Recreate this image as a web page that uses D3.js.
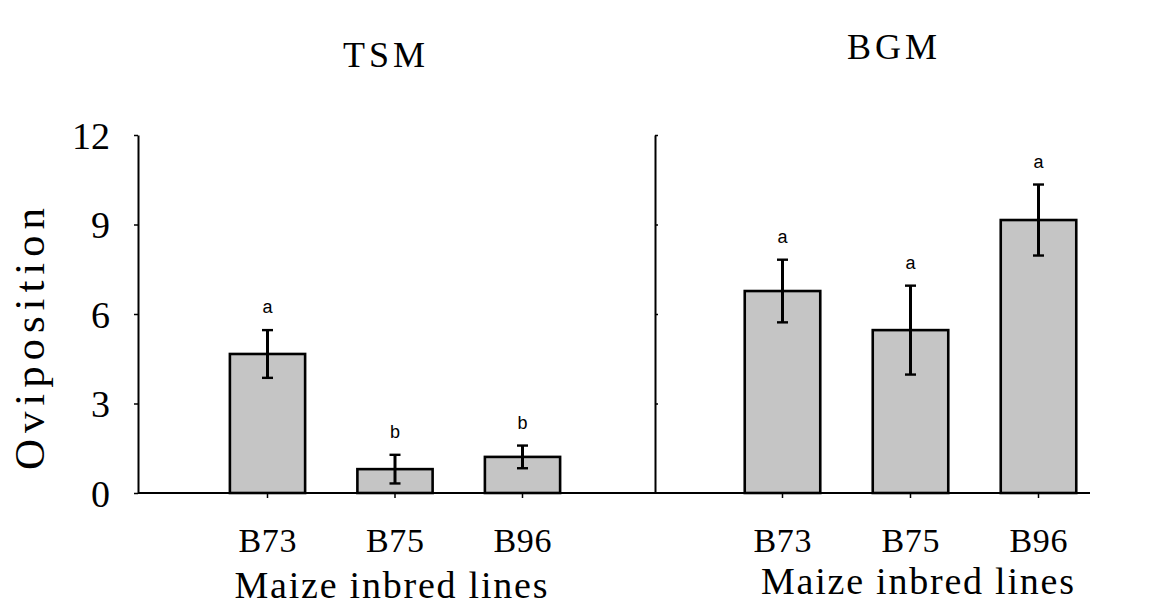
<!DOCTYPE html>
<html>
<head>
<meta charset="utf-8">
<script src="https://cdn.jsdelivr.net/npm/d3@7"></script>
<style>
  html, body { margin: 0; padding: 0; background: #fff; }
  svg { display: block; }
</style>
</head>
<body>
<svg id="chart" width="1160" height="605"></svg>
<script>
// Oviposition on three maize inbred lines, two mite species
const lines = ["B73", "B75", "B96"];
const panels = ["TSM", "BGM"];
const tsmMean = [4.66, 0.80, 1.21];
const tsmErr = [0.80, 0.48, 0.38];
const tsmLetters = ["a", "b", "b"];
const bgmMean = [6.77, 5.46, 9.15];
const bgmErr = [1.05, 1.49, 1.19];
const bgmLetters = ["a", "a", "a"];
const yTicks = [0, 3, 6, 9, 12];
const yLabel = "Oviposition";
const xLabel = "Maize inbred lines";

const serif = "'Liberation Serif', 'Times New Roman', serif";
const sans = "'Liberation Sans', Arial, sans-serif";
const svg = d3.select("#chart");

const y = d3.scaleLinear().domain([0, 12]).range([493, 135]);

const layout = [
  { name: panels[0], mean: tsmMean, err: tsmErr, letters: tsmLetters,
    axisX: 138, axisEnd: 655, band: [203.75, 586.25], tickSide: "left",
    titleX: 384, titleY: 67, titleW: 82, labelX: 391, labelY: 598 },
  { name: panels[1], mean: bgmMean, err: bgmErr, letters: bgmLetters,
    axisX: 655, axisEnd: 1090, band: [718.5, 1102.5], tickSide: "right",
    titleX: 892, titleY: 59, titleW: 90, labelX: 917.5, labelY: 594 }
];

layout.forEach(p => {
  const g = svg.append("g");
  const x = d3.scaleBand().domain(lines).range(p.band).paddingInner(0.41).paddingOuter(0.205);

  // bars
  g.selectAll("rect.bar").data(lines).join("rect")
    .attr("class", "bar")
    .attr("x", d => x(d))
    .attr("width", x.bandwidth())
    .attr("y", (d, i) => y(p.mean[i]))
    .attr("height", (d, i) => y(0) - y(p.mean[i]))
    .attr("fill", "#c5c5c5")
    .attr("stroke", "#000")
    .attr("stroke-width", 2.6);

  // error bars
  const cx = d => x(d) + x.bandwidth() / 2;
  g.selectAll("line.err").data(lines).join("line")
    .attr("x1", cx).attr("x2", cx)
    .attr("y1", (d, i) => y(p.mean[i] + p.err[i]))
    .attr("y2", (d, i) => y(p.mean[i] - p.err[i]))
    .attr("stroke", "#000").attr("stroke-width", 3);
  ["+", "-"].forEach(s => {
    g.selectAll("line.cap" + (s === "+" ? "u" : "d")).data(lines).join("line")
      .attr("x1", d => cx(d) - 5.5).attr("x2", d => cx(d) + 5.5)
      .attr("y1", (d, i) => y(s === "+" ? p.mean[i] + p.err[i] : p.mean[i] - p.err[i]))
      .attr("y2", (d, i) => y(s === "+" ? p.mean[i] + p.err[i] : p.mean[i] - p.err[i]))
      .attr("stroke", "#000").attr("stroke-width", 2.4);
  });

  // significance letters
  g.selectAll("text.sig").data(lines).join("text")
    .attr("x", cx)
    .attr("y", (d, i) => y(p.mean[i] + p.err[i]) - 17)
    .attr("text-anchor", "middle")
    .attr("font-family", sans).attr("font-size", 18)
    .text((d, i) => p.letters[i]);

  // x axis
  const xa = svg.append("g").attr("transform", `translate(0,${y(0)})`)
    .call(d3.axisBottom(x).tickSize(5).tickSizeOuter(0));
  xa.select(".domain").attr("d", `M${p.axisX},0H${p.axisEnd}`).attr("stroke-width", 2);
  xa.selectAll(".tick line").attr("stroke-width", 1.5);
  xa.selectAll(".tick text")
    .attr("y", 59).attr("dy", null)
    .attr("font-family", serif).attr("font-size", 34)
    .attr("textLength", 58).attr("lengthAdjust", "spacing")
    .attr("fill", "#000");

  // y axis
  const axisGen = p.tickSide === "left" ? d3.axisLeft(y) : d3.axisRight(y);
  const ya = svg.append("g").attr("transform", `translate(${p.axisX},0)`)
    .call(axisGen.tickValues(yTicks).tickSize(p.tickSide === "left" ? 4 : 3).tickSizeOuter(0));
  ya.select(".domain").attr("stroke-width", 2);
  ya.selectAll(".tick line").attr("stroke-width", 1.5);
  if (p.tickSide === "left") {
    ya.selectAll(".tick text")
      .attr("x", -28).attr("dy", "0.35em")
      .attr("font-family", serif).attr("font-size", 38).attr("fill", "#000");
  } else {
    ya.selectAll(".tick text").remove();
    ya.selectAll(".tick").filter(d => d === 0).select("line").remove();
  }

  // panel title
  svg.append("text")
    .attr("x", p.titleX).attr("y", p.titleY)
    .attr("text-anchor", "middle")
    .attr("font-family", serif).attr("font-size", 36)
    .attr("textLength", p.titleW).attr("lengthAdjust", "spacing")
    .text(p.name);

  // x axis title
  svg.append("text")
    .attr("x", p.labelX).attr("y", p.labelY)
    .attr("text-anchor", "middle")
    .attr("font-family", serif).attr("font-size", 38)
    .attr("textLength", 313).attr("lengthAdjust", "spacing")
    .text(xLabel);
});

// y axis title
svg.append("text")
  .attr("transform", "translate(44,339) rotate(-90)")
  .attr("text-anchor", "middle")
  .attr("font-family", serif).attr("font-size", 43)
  .attr("textLength", 262).attr("lengthAdjust", "spacing")
  .text(yLabel);
</script>
</body>
</html>
